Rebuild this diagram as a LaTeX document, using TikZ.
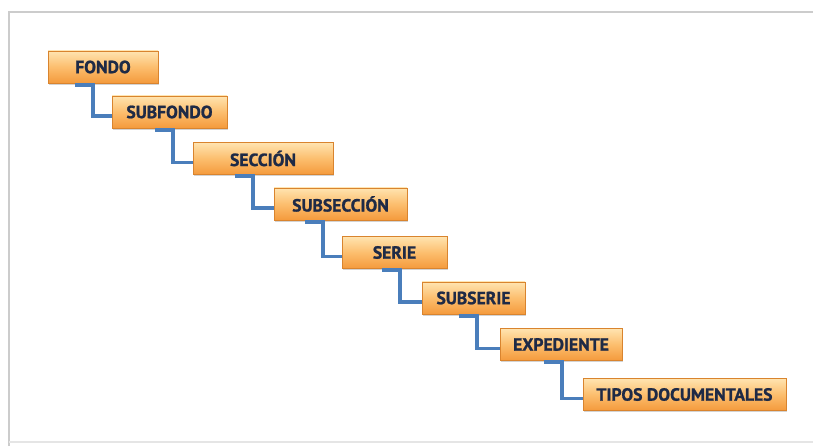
\documentclass[tikz,border=0pt]{standalone}
\usepackage{fontspec}
\setmainfont{PT Sans}[BoldFeatures={FakeBold=1.2}]
\usepackage{xcolor}
\usetikzlibrary{positioning,shadows}

\definecolor{boxtop}{HTML}{FFE4B0}
\definecolor{boxmid}{HTML}{FCBE6E}
\definecolor{boxbot}{HTML}{F49A3C}
\definecolor{boxline}{HTML}{D9842E}
\definecolor{textnavy}{HTML}{1E2A46}
\definecolor{linkblue}{HTML}{4A7EBB}

\begin{document}
\begin{tikzpicture}
[x=0.025cm, y=-0.025cm,
    font=\bfseries\fontsize{12.5}{14}\selectfont,
    stairbox/.style={top color=boxtop, bottom color=boxbot, middle color=boxmid,
    rectangle, draw=boxline, thin, text=textnavy,
    minimum width=#1*0.025cm, minimum height=0.8cm, inner sep=2pt,
    drop shadow={opacity=0.35, shadow xshift=1pt, shadow yshift=-1.2pt},
    align=center},
    link/.style={draw=linkblue, line width=2.6pt}
    ]

    \useasboundingbox (0,0) rectangle (813,446);
    % frame
    \draw[black!20, line width=1.4pt] (9,446) -- (9,12) -- (813,12);
    \draw[black!10, line width=1.4pt] (9,442) -- (813,442);

    \node[stairbox=110] (fondo) at (103,67) {FONDO};
    \node[stairbox=115] (subfondo) at (169.5,112) {SUBFONDO};
    \node[stairbox=140] (seccion) at (263,158.5) {SECCIÓN};
    \node[stairbox=133] (subseccion) at (340.5,204) {SUBSECCIÓN};
    \node[stairbox=105] (serie) at (394.5,252.5) {SERIE};
    \node[stairbox=103] (subserie) at (473.5,298) {SUBSERIE};
    \node[stairbox=122] (expediente) at (561,344.5) {EXPEDIENTE};
    \node[stairbox=203] (tipos) at (684.5,394.5) {TIPOS DOCUMENTALES};

    \draw[link] ([xshift=27*0.025cm, yshift=-1pt]fondo.south west) -- ++(18,0) |- ([yshift=-0.1cm]subfondo.west);
    \draw[link] ([xshift=43*0.025cm, yshift=-1pt]subfondo.south west) -- ++(18,0) |- ([yshift=-0.1cm]seccion.west);
    \draw[link] ([xshift=42*0.025cm, yshift=-1pt]seccion.south west) -- ++(18,0) |- ([yshift=-0.1cm]subseccion.west);
    \draw[link] ([xshift=31*0.025cm, yshift=-1pt]subseccion.south west) -- ++(18,0) |- ([yshift=-0.1cm]serie.west);
    \draw[link] ([xshift=40*0.025cm, yshift=-1pt]serie.south west) -- ++(18,0) |- ([yshift=-0.1cm]subserie.west);
    \draw[link] ([xshift=37*0.025cm, yshift=-1pt]subserie.south west) -- ++(18,0) |- ([yshift=-0.1cm]expediente.west);
    \draw[link] ([xshift=44*0.025cm, yshift=-1pt]expediente.south west) -- ++(18,0) |- ([yshift=-0.1cm]tipos.west);
\end{tikzpicture}
\end{document}
